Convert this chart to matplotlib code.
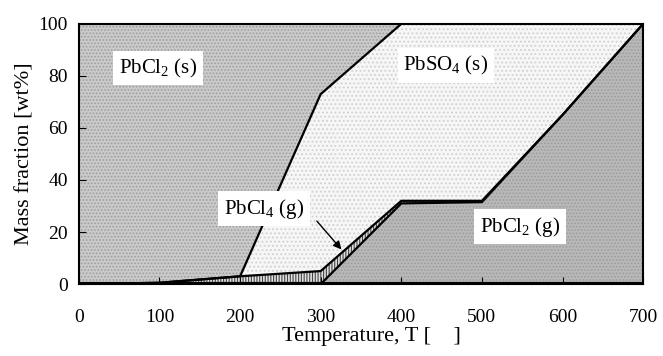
import numpy as np
import matplotlib.pyplot as plt

plt.rcParams['font.family'] = ['Liberation Serif', 'DejaVu Serif']
plt.rcParams['mathtext.fontset'] = 'custom'
plt.rcParams['mathtext.rm'] = 'Liberation Serif'
plt.rcParams['mathtext.it'] = 'Liberation Serif:italic'
plt.rcParams['hatch.linewidth'] = 0.8

# 温度 [℃]
T = [0, 100, 200, 300, 400, 500, 600, 700]
# 各相の質量分率 [wt%]
pbcl2_g = [0, 0, 0, 0, 31, 31.5, 65, 100]
pbcl4_g = [0, 0.5, 3, 5, 1, 0.5, 0, 0]
pbso4_s = [0, 0, 0, 68, 68, 68, 35, 0]
pbcl2_s = [100, 99.5, 97, 27, 0, 0, 0, 0]

xticks = [0, 100, 200, 300, 400, 500, 600, 700]
yticks = [0, 20, 40, 60, 80, 100]

fig = plt.figure(figsize=(6.63, 3.56), dpi=100)
ax = fig.add_axes([0.119, 0.202, 0.851, 0.731])

c1 = np.array(pbcl2_g)
c2 = c1 + np.array(pbcl4_g)
c3 = c2 + np.array(pbso4_s)
c4 = c3 + np.array(pbcl2_s)

ax.fill_between(T, 0, c1, facecolor='#b8b8b8', edgecolor='#9c9c9c', hatch='.....', linewidth=0)
ax.fill_between(T, c1, c2, facecolor='#e0e0e0', edgecolor='#444444', hatch='||||||', linewidth=0)
ax.fill_between(T, c2, c3, facecolor='#f6f6f6', edgecolor='#d0d0d0', hatch='....', linewidth=0)
ax.fill_between(T, c3, c4, facecolor='#cacaca', edgecolor='#9e9e9e', hatch='.....', linewidth=0)

for c in (c1, c2, c3):
    ax.plot(T, c, color='black', lw=1.6, solid_joinstyle='miter')
ax.plot(T, np.zeros(len(T)), color='black', lw=3)

box = dict(facecolor='white', edgecolor='none', pad=4)
ax.text(98, 83, 'PbCl$_2$ (s)', fontsize=15, ha='center', va='center', bbox=box)
ax.text(455, 84, 'PbSO$_4$ (s)', fontsize=15, ha='center', va='center', bbox=box)
ax.text(230, 29, 'PbCl$_4$ (g)', fontsize=15, ha='center', va='center', bbox=box)
ax.text(547, 22, 'PbCl$_2$ (g)', fontsize=15, ha='center', va='center', bbox=box)
ax.annotate('', xy=(328, 12.5), xytext=(293, 25),
            arrowprops=dict(arrowstyle='-|>', color='black', lw=1.0, mutation_scale=12))

ax.set_xlim(0, 700)
ax.set_ylim(0, 100)
ax.set_xticks(xticks)
ax.set_yticks(yticks)
ax.tick_params(direction='in', labelsize=14, length=5, top=False, right=False)
ax.tick_params(axis='x', pad=18)
ax.tick_params(axis='y', pad=8)
for s in ax.spines.values():
    s.set_linewidth(1.5)
ax.set_xlabel('Temperature, T [    ]', fontsize=16)
ax.xaxis.set_label_coords(0.518, -0.165)
ax.set_ylabel('Mass fraction [wt%]', fontsize=16, labelpad=3)

fig.savefig('out.png', dpi=100)
